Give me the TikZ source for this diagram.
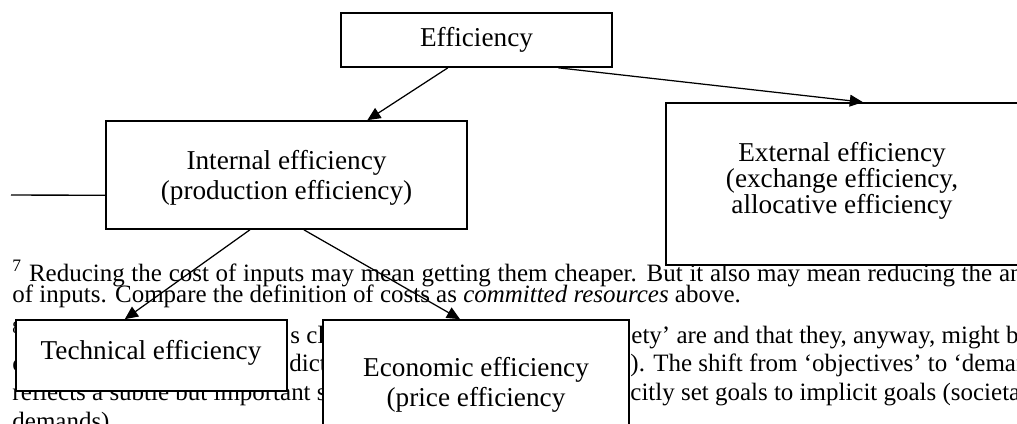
\documentclass[tikz,border=0pt]{standalone}
\usepackage{fontspec}
\setmainfont{Liberation Serif}
\usetikzlibrary{arrows.meta,calc}
\begin{document}
\begin{tikzpicture}[x=0.4405pt,y=-0.4405pt,
  box/.style={draw,line width=0.7pt,fill=white,inner sep=0pt},
  btxt/.style={font=\fontsize{12}{13.2}\selectfont,align=center,inner sep=0pt},
  fn/.style={font=\fontsize{11}{13}\selectfont,anchor=base west,inner sep=0pt},
  conn/.style={line width=0.55pt,-{Triangle[length=5.8pt,width=5.2pt]}}]
\useasboundingbox (0,0) rectangle (1017,423);
\clip (0,0) rectangle (1017,423);
% footnote text (partly hidden behind the boxes)
\node[fn] (f1) at (12,281) {\makebox[444.9pt][s]{\textsuperscript{7} Reducing the cost of inputs may mean getting them cheaper. But it also may mean reducing the an}};
\node[fn] (f2) at (12,302) {of inputs. Compare the definition of costs as \textit{committed resources} above.};
\node[fn] (f3a) at (12,343) {\textsuperscript{8}};
\node[fn] (f3b) at (290,343) {s cl};
\node[fn] (f3c) at (631,343) {ety’ are and that they, anyway, might b};
\node[fn] (f4a) at (12,371) {c};
\node[fn] (f4b) at (289,371) {dict};
\node[fn] (f4c) at (630,371) {). The shift from ‘objectives’ to ‘deman};
\node[fn] (f5a) at (12,400) {reflects a subtle but important s};
\node[fn] (f5c) at (630,400) {citly set goals to implicit goals (societa};
\node[fn] (f6) at (12,429) {demands)};
% boxes
\node[box,minimum width=119.4pt,minimum height=23.8pt] (eff) at (476.5,40) {};
\node[box,minimum width=159.0pt,minimum height=47.6pt] (int) at (286.5,175) {};
\node[box,minimum width=156.8pt,minimum height=71.4pt] (ext) at (844,184) {};
\node[box,minimum width=119.4pt,minimum height=31.3pt] (tech) at (151.5,355.5) {};
\node[box,minimum width=134.8pt,minimum height=57.3pt] (econ) at (476,385) {};
% box texts
\node[btxt] (teff) at (476.5,40) {Efficiency};
\node[btxt] (tint) at (286.5,178) {Internal efficiency\\(production efficiency)};
\node[btxt,font=\fontsize{12}{11.4}\selectfont] (text) at (842,181) {External efficiency\\(exchange efficiency,\\allocative efficiency};
\node[btxt] (ttech) at (151,353) {Technical efficiency};
\node[btxt] (tecon) at (476,385) {Economic efficiency\\(price efficiency};
% connectors
\draw[conn] ($(eff.south west)!0.395!(eff.south east)$) -- ($(int.north west)!0.723!(int.north east)$);
\draw[conn] ($(eff.south west)!0.80!(eff.south east)$) -- ($(ext.north west)!0.553!(ext.north east)$);
\draw[conn] ($(int.south west)!0.399!(int.south east)$) -- ($(tech.north west)!0.402!(tech.north east)$);
\draw[conn] ($(int.south west)!0.548!(int.south east)$) -- ($(econ.north west)!0.448!(econ.north east)$);
\coordinate (lend) at (11,195);
\draw[line width=0.6pt] ($(int.north west)!0.685!(int.south west)$) -- (lend);
\end{tikzpicture}
\end{document}
